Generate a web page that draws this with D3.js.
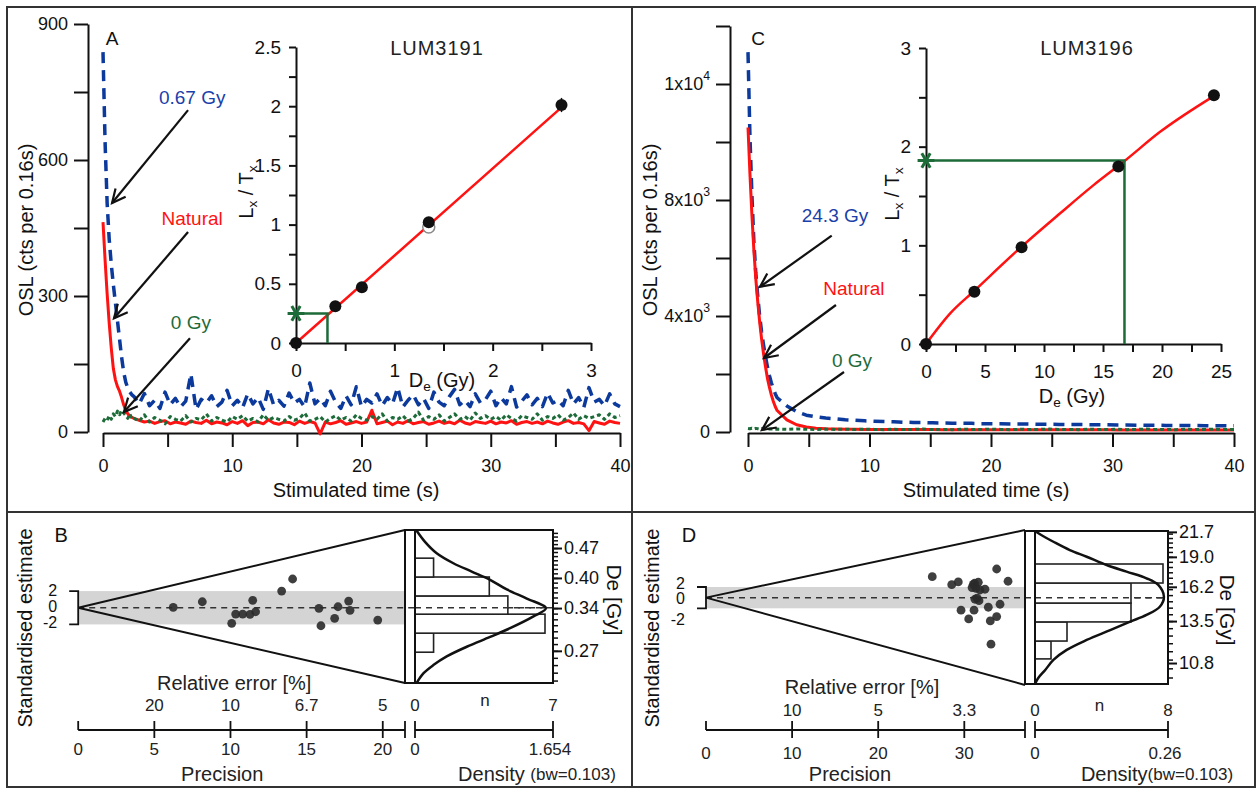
<!DOCTYPE html>
<html>
<head>
<meta charset="utf-8">
<script src="https://cdn.jsdelivr.net/npm/d3@7/dist/d3.min.js"></script>
<style>
  body { margin: 0; background: #fff; }
  text { font-family: "Liberation Sans", Arial, sans-serif; }
</style>
</head>
<body>
<svg id="chart" width="1258" height="789"></svg>
<script>
// ---------- data : OSL decay curves (counts per channel) ----------
const tEarly = [0, 0.16, 0.32, 0.48, 0.64, 0.8, 0.96, 1.12, 1.28, 1.44, 1.6, 1.76, 1.92, 2.08, 2.24];
const timeA = tEarly.concat(d3.range(2.4, 40.01, 0.4));
const timeC = tEarly.concat(d3.range(2.4, 40.01, 0.8));

const natA = [463, 380, 305, 240, 185, 140, 115, 100, 90, 76, 60, 48, 40, 35, 32,
  30, 26, 22, 24, 19, 23, 25, 18, 22, 20,
  17, 24, 21, 19, 26, 18, 22, 20, 16, 23,
  19, 25, 14, 21, 22, 18, 27, 20, 17, 22,
  21, 16, 24, 19, 23, 20, -4, 22, 18, 21,
  25, 17, 20, 23, 19, 22, 48, 18, 21, 24,
  16, 22, 19, 25, 18, 21, 23, 17, 20, 24,
  19, 22, 18, 26, 20, 17, 23, 21, 19, 24,
  18, 22, 20, 25, 17, 21, 23, 19, 22, 18,
  24, 20, 17, 22, 25, 19, 21, 18, 3, 23,
  20, 17, 24, 21, 19];
const regA = [838, 640, 505, 425, 370, 325, 285, 245, 205, 165, 132, 110, 97, 88, 82,
  78, 62, 85, 58, 70, 52, 88, 60, 74, 55,
  68, 128, 50, 72, 64, 80, 56, 66, 92, 58,
  70, 54, 84, 62, 76, 50, 96, 60, 70, 57,
  86, 64, 72, 55, 108, 62, 74, 58, 90, 66,
  52, 80, 60, 100, 56, 72, 64, 84, 58, 76,
  62, 98, 55, 70, 82, 60, 74, 52, 88, 66,
  58, 78, 94, 60, 70, 56, 84, 64, 72, 90,
  58, 76, 62, 100, 55, 68, 82, 60, 74, 56,
  86, 64, 70, 58, 92, 62, 76, 54, 98, 66,
  72, 58, 84, 62, 56];
const bgA = [22, 30, 26, 36, 28, 40, 34, 46, 38, 48, 42, 36, 30, 40, 28,
  30, 24, 38, 22, 32, 26, 18, 34, 28, 24,
  36, 22, 30, 27, 40, 24, 32, 26, 22, 34,
  28, 36, 24, 30, 22, 38, 26, 32, 28, 24,
  34, 26, 30, 42, 24, 28, 34, 22, 30, 36,
  26, 32, 24, 38, 30, 26, 34, 28, 40, 24,
  32, 28, 36, 24, 30, 44, 26, 34, 28, 38,
  24, 32, 40, 28, 34, 26, 42, 30, 36, 28,
  34, 26, 38, 30, 24, 36, 32, 28, 40, 26,
  34, 30, 38, 26, 32, 42, 28, 36, 30, 34,
  38, 28, 40, 32, 36];

const natC = [10500, 8900, 7500, 6300, 5300, 4500, 3800, 3200, 2700, 2250, 1850, 1550, 1280, 1060, 880,
  740, 420, 250, 170, 130, 110, 100, 95, 92, 90,
  88, 86, 85, 84, 83, 82, 82, 81, 80, 80,
  79, 79, 78, 78, 77, 77, 76, 76, 76, 75,
  75, 75, 74, 74, 74, 73, 73, 73, 72, 72,
  72, 71, 71, 71, 70, 70, 70, 70];
const regC = [13100, 10200, 8200, 6600, 5500, 4700, 4000, 3450, 3000, 2600, 2250, 1950, 1700, 1500, 1320,
  1180, 900, 700, 580, 520, 480, 455, 420, 405, 385,
  372, 360, 352, 338, 330, 326, 316, 312, 302, 300,
  298, 288, 286, 284, 276, 274, 272, 266, 265, 262,
  255, 256, 252, 248, 246, 240, 241, 236, 232, 233,
  228, 226, 222, 221, 218, 215, 214, 212];
const bgC = [120, 110, 130, 105, 125, 115, 100, 120, 110, 95, 115, 105, 100, 110, 95,
  100, 90, 105, 95, 85, 100, 90, 95, 85, 100,
  90, 80, 95, 85, 90, 100, 85, 90, 80, 95,
  90, 85, 100, 90, 80, 95, 85, 90, 100, 85,
  90, 80, 95, 90, 85, 95, 80, 90, 100, 85,
  90, 80, 95, 85, 90, 95, 85, 90];

// y tick labels of panel C (as printed on the figure)
const yTickValsC = [0, 4000, 8000, 12000];
const yTickTextC = [[["0"]], [["4x10"], ["3", "sup"]], [["8x10"], ["3", "sup"]], [["1x10"], ["4", "sup"]]];

// ---------- data : dose response insets ----------
const doseA = [0, 0.40, 0.67, 1.35, 2.70];
const ratioA = [0, 0.31, 0.47, 1.02, 2.01];
const errA = [0, 0.02, 0.02, 0.03, 0.06];
const fitDoseA = [0, 2.70];
const fitRatioA = [0, 1.99];

const doseC = [0, 4.1, 8.1, 16.3, 24.4];
const ratioC = [0, 0.53, 0.98, 1.80, 2.52];
const errC = [0, 0.03, 0.03, 0.04, 0.05];
const fitDoseC = [0, 2.05, 4.1, 8.13, 11.37, 14.2, 16.88, 19.84, 24.35];
const fitRatioC = [0, 0.31, 0.54, 0.99, 1.325, 1.61, 1.86, 2.15, 2.51];

// ---------- data : radial plots ----------
const precB = [6.24, 8.15, 10.08, 10.34, 10.80, 11.28, 11.46, 11.65, 13.36, 14.08, 15.81, 15.94, 16.84, 17.06, 17.76, 17.85, 19.67];
const zB = [0.05, 0.72, -1.87, -0.76, -0.76, -0.79, 0.89, -0.48, 2.0, 3.45, -0.07, -2.16, -1.27, 0.12, 0.80, -0.31, -1.48];
const binEdgesB = [0.268, 0.297, 0.329, 0.363, 0.402, 0.445];
const binCountsB = [1, 7, 5, 4, 1];
const kdeDeB = [0.516, 0.486, 0.457, 0.433, 0.414, 0.396, 0.376, 0.358, 0.340, 0.325, 0.305, 0.291, 0.276, 0.262, 0.250, 0.239, 0.227];
const kdeDenB = [0.02, 0.12, 0.26, 0.46, 0.68, 0.90, 1.10, 1.34, 1.57, 1.42, 1.14, 0.90, 0.62, 0.38, 0.22, 0.10, 0.02];
const deTicksB = [0.27, 0.34, 0.40, 0.47];
const relTicksB = [5, 10, 15, 20];
const relTextB = ["20", "10", "6.7", "5"];
const precTicksB = [0, 5, 10, 15, 20];

const precD = [26.28, 28.54, 29.30, 31.05, 31.63, 31.36, 31.82, 32.40, 31.24, 31.71, 33.76, 35.08, 29.62, 31.13, 30.51, 32.79, 33.02, 33.76, 34.15, 33.10, 31.2, 31.5, 30.9];
const zD = [3.94, 2.44, 2.95, 2.51, 2.89, 1.76, 1.44, 1.58, -0.30, -0.56, 5.38, 3.08, -2.36, -2.36, -4.0, -1.80, -4.37, -3.56, -1.24, -8.74, 2.7, -0.1, 1.9];
const binEdgesD = [11.04, 12.14, 13.44, 14.86, 16.53, 18.29];
const binCountsD = [1, 2, 6, 6, 8];
const kdeDeD = [21.8, 21.31, 20.59, 19.70, 19.01, 18.19, 17.56, 16.95, 16.36, 15.37, 14.57, 13.95, 13.46, 12.87, 12.21, 11.58, 10.98, 10.41, 9.96, 9.66];
const kdeDenD = [0, 0.013, 0.036, 0.068, 0.101, 0.140, 0.179, 0.218, 0.241, 0.252, 0.244, 0.218, 0.186, 0.147, 0.101, 0.062, 0.036, 0.020, 0.006, 0];
const deTicksD = [10.8, 13.5, 16.2, 19.0, 21.7];
const relTicksD = [10, 20, 30];
const relTextD = ["10", "5", "3.3"];
const precTicksD = [0, 10, 20, 30];

// ---------- drawing ----------
const svg = d3.select("#chart");
const INK = "#111", BLUE = "#0c3a9c", BLUE_T = "#1a40aa", RED = "#ff1212", GREEN = "#1e6b3a";

function label(g, x, y, parts, opt = {}) {
  const size = opt.size || 18;
  const t = g.append("text")
    .attr("x", x).attr("y", y)
    .attr("font-size", size)
    .attr("fill", opt.fill || INK)
    .attr("text-anchor", opt.anchor || "middle")
    .attr("dominant-baseline", "central");
  if (opt.rotate) t.attr("transform", `rotate(${opt.rotate},${x},${y})`);
  if (opt.spacing) t.attr("letter-spacing", opt.spacing);
  if (typeof parts === "string") parts = [[parts]];
  let shift = 0;
  parts.forEach(([s, kind]) => {
    const target = kind === "sub" ? size * 0.32 : kind === "sup" ? -size * 0.42 : 0;
    const ts = t.append("tspan").text(s);
    if (target !== shift) ts.attr("dy", target - shift);
    if (kind === "sub" || kind === "sup") ts.attr("font-size", size * 0.68);
    if (kind === "small") ts.attr("font-size", size * 0.85);
    shift = target;
  });
  return t;
}

function styleAxis(a, size) {
  a.attr("font-size", size).attr("font-family", null);
  a.selectAll("path, line").attr("stroke", INK).attr("stroke-width", 2);
  a.selectAll("text").attr("fill", INK);
}

function arrow(g, p1, p2) {
  g.append("line").attr("x1", p1[0]).attr("y1", p1[1]).attr("x2", p2[0]).attr("y2", p2[1])
    .attr("stroke", INK).attr("stroke-width", 2.2);
  const a = Math.atan2(p2[1] - p1[1], p2[0] - p1[0]), L = 15, w = 0.45;
  const p = d3.path();
  p.moveTo(p2[0] - L * Math.cos(a - w), p2[1] - L * Math.sin(a - w));
  p.lineTo(p2[0], p2[1]);
  p.lineTo(p2[0] - L * Math.cos(a + w), p2[1] - L * Math.sin(a + w));
  g.append("path").attr("d", p).attr("fill", "none").attr("stroke", INK).attr("stroke-width", 2.2);
}

// frame
svg.append("rect").attr("x", 7).attr("y", 7).attr("width", 1248).attr("height", 780)
  .attr("fill", "none").attr("stroke", "#333").attr("stroke-width", 2);
svg.append("line").attr("x1", 632).attr("x2", 632).attr("y1", 7).attr("y2", 787).attr("stroke", "#333").attr("stroke-width", 2);
svg.append("line").attr("x1", 7).attr("x2", 1255).attr("y1", 512).attr("y2", 512).attr("stroke", "#333").attr("stroke-width", 2);

function decayPanel(o) {
  const g = svg.append("g");
  const x = d3.scaleLinear().domain([0, 40]).range(o.xr);
  const y = d3.scaleLinear().domain([0, o.yMax]).range([432, o.yTop]);

  const ya = g.append("g").attr("transform", `translate(${o.axisX},0)`)
    .call(d3.axisLeft(y).tickValues(o.yTicks).tickSize(14).tickSizeOuter(0).tickFormat(""));
  const xa = g.append("g").attr("transform", "translate(0,433)")
    .call(d3.axisBottom(x).tickValues(d3.range(0, 41, 5)).tickSize(14).tickSizeOuter(0).tickPadding(12)
      .tickFormat(d => d % 10 ? "" : d));
  styleAxis(ya, 18); styleAxis(xa, 18);
  o.yLabVals.forEach((v, i) => label(g, o.axisX - 20, y(v), o.yLabText[i], { anchor: "end", size: 18 }));

  label(g, o.titleX, 490, "Stimulated time (s)", { size: 20 });
  label(g, o.oslX, 230, "OSL (cts per 0.16s)", { size: 20, rotate: -90 });
  label(g, o.tagX, 38, o.tag, { size: 19 });

  const line = d3.line().x(d => x(d[0])).y(d => y(d[1]));
  const series = [
    { v: o.reg, c: BLUE, w: 3.5, dash: "11,7" },
    { v: o.nat, c: RED, w: 3 },
    { v: o.bg, c: GREEN, w: 3, dash: "4,3" }
  ];
  series.forEach(s => {
    g.append("path").datum(d3.zip(o.time, s.v)).attr("d", line)
      .attr("fill", "none").attr("stroke", s.c).attr("stroke-width", s.w)
      .attr("stroke-linejoin", "round").attr("stroke-dasharray", s.dash || null);
  });

  o.notes.forEach(n => {
    label(g, x(n.at[0]), y(n.at[1]), n.text, { size: 19, fill: n.color });
    arrow(g, [x(n.from[0]), y(n.from[1])], [x(n.to[0]), y(n.to[1])]);
  });
}

decayPanel({
  xr: [103, 620], yMax: 900, yTop: 24, axisX: 88,
  yTicks: d3.range(0, 901, 150), yLabVals: [0, 300, 600, 900], yLabText: ["0", "300", "600", "900"],
  titleX: 356, oslX: 26, tagX: 112, tag: "A",
  time: timeA, nat: natA, reg: regA, bg: bgA,
  notes: [
    { text: "0.67 Gy", color: BLUE_T, at: [6.9, 739], from: [6.58, 710], to: [0.70, 505] },
    { text: "Natural", color: RED, at: [6.9, 472], from: [6.58, 441], to: [0.85, 251] },
    { text: "0 Gy", color: GREEN, at: [6.8, 243], from: [6.73, 207], to: [1.62, 44] }
  ]
});

decayPanel({
  xr: [748, 1234], yMax: 14000, yTop: 26, axisX: 730,
  yTicks: d3.range(0, 14001, 2000), yLabVals: yTickValsC, yLabText: yTickTextC,
  titleX: 986, oslX: 650, tagX: 758, tag: "C",
  time: timeC, nat: natC, reg: regC, bg: bgC,
  notes: [
    { text: "24.3 Gy", color: BLUE_T, at: [7.16, 7483], from: [6.89, 6769], to: [0.99, 5010] },
    { text: "Natural", color: RED, at: [8.72, 4966], from: [7.24, 4379], to: [1.32, 2552] },
    { text: "0 Gy", color: GREEN, at: [8.56, 2483], from: [7.9, 2069], to: [1.15, 69] }
  ]
});

function inset(o) {
  const g = svg.append("g");
  const x = d3.scaleLinear().domain([0, o.xMax]).range([o.x0, o.x1]);
  const y = d3.scaleLinear().domain([0, o.yMax]).range([o.y0, o.y1]);
  const ya = g.append("g").attr("transform", `translate(${o.x0},0)`)
    .call(d3.axisLeft(y).tickValues(o.yTicks).tickSize(7).tickSizeOuter(0).tickPadding(8)
      .tickFormat(d => o.yLab.includes(d) ? d : ""));
  const xa = g.append("g").attr("transform", `translate(0,${o.y0})`)
    .call(d3.axisBottom(x).tickValues(o.xTicks).tickSize(8).tickSizeOuter(0).tickPadding(13)
      .tickFormat(d => o.xLab.includes(d) ? d : ""));
  styleAxis(ya, 19); styleAxis(xa, 19);

  label(g, o.titleX, 48, o.title, { size: 20, spacing: 1, fill: "#222" });
  label(g, o.xTitle[0], o.xTitle[1], [["D"], ["e", "sub"], [" (Gy)"]], { size: 20 });
  label(g, o.yTitle[0], o.yTitle[1], [["L"], ["x", "sub"], [" / T"], ["x", "sub"]], { size: 20, rotate: -90 });

  g.append("path").datum(d3.zip(o.fitDose, o.fitRatio))
    .attr("d", d3.line().curve(d3.curveMonotoneX).x(d => x(d[0])).y(d => y(d[1])))
    .attr("fill", "none").attr("stroke", RED).attr("stroke-width", 2.5);
  g.append("path").attr("d", `M${x(0)},${y(o.natRatio)}H${x(o.de)}V${y(0)}`)
    .attr("fill", "none").attr("stroke", GREEN).attr("stroke-width", 2.5);
  g.append("path").attr("d", d3.symbol(d3.symbolAsterisk, 200)())
    .attr("transform", `translate(${x(0)},${y(o.natRatio)}) rotate(90)`)
    .attr("fill", "none").attr("stroke", GREEN).attr("stroke-width", 3);

  if (o.recDose) {
    g.append("circle").attr("cx", x(o.recDose)).attr("cy", y(o.recRatio)).attr("r", 6)
      .attr("fill", "#fff").attr("stroke", "#888").attr("stroke-width", 1.5);
  }
  o.dose.forEach((d, i) => {
    g.append("line").attr("x1", x(d)).attr("x2", x(d))
      .attr("y1", y(o.ratio[i] - o.err[i])).attr("y2", y(o.ratio[i] + o.err[i]))
      .attr("stroke", INK).attr("stroke-width", 1.5);
    g.append("circle").attr("cx", x(d)).attr("cy", y(o.ratio[i])).attr("r", 6).attr("fill", "#111");
  });
}

inset({
  x0: 296, x1: 591, y0: 343, y1: 47, xMax: 3, yMax: 2.5,
  yTicks: d3.range(0, 2.51, 0.25), yLab: [0, 0.5, 1, 1.5, 2, 2.5],
  xTicks: d3.range(0, 3.01, 0.5), xLab: [0, 1, 2, 3],
  title: "LUM3191", titleX: 437, xTitle: [442, 380], yTitle: [246, 192],
  dose: doseA, ratio: ratioA, err: errA, fitDose: fitDoseA, fitRatio: fitRatioA,
  natRatio: 0.25, de: 0.32, recDose: 1.35, recRatio: 0.98
});

inset({
  x0: 926, x1: 1221, y0: 344, y1: 48, xMax: 25, yMax: 3,
  yTicks: d3.range(0, 3.01, 0.5), yLab: [0, 1, 2, 3],
  xTicks: d3.range(0, 25.1, 2.5), xLab: [0, 5, 10, 15, 20, 25],
  title: "LUM3196", titleX: 1087, xTitle: [1072, 396], yTitle: [892, 194],
  dose: doseC, ratio: ratioC, err: errC, fitDose: fitDoseC, fitRatio: fitRatioC,
  natRatio: 1.86, de: 16.82
});

function radial(o) {
  const g = svg.append("g");
  const xP = d3.scaleLinear().domain([0, o.pMax]).range([o.x0, o.x1]);
  const yZ = d3.scaleLinear().domain(o.zDom).range([o.yBot, o.yTop]);
  const yDe = d3.scaleLog().domain(o.deDom).range([o.boxBot, o.boxTop]);
  const xN = d3.scaleLinear().domain([0, o.nMax]).range([o.hx0, o.nRight]);
  const xDen = d3.scaleLinear().domain([0, o.denMax]).range([o.hx0, o.hx1]);
  const ink = s => s.attr("stroke", INK).attr("fill", "none");

  // +-2 band and centre line
  g.append("rect").attr("x", xP(0)).attr("y", yZ(2)).attr("width", xP(o.pMax) - xP(0))
    .attr("height", yZ(-2) - yZ(2)).attr("fill", "#d4d4d4");
  g.append("line").attr("x1", xP(0)).attr("x2", o.hx1 - 2).attr("y1", yZ(0)).attr("y2", yZ(0))
    .attr("stroke", "#333").attr("stroke-width", 1.5).attr("stroke-dasharray", "6,5");
  // limit lines
  g.append("path").attr("d", d3.line()([[xP(o.pMax), yZ(o.zDom[1])], [xP(0), yZ(0)], [xP(o.pMax), yZ(o.zDom[0])]]))
    .call(ink).attr("stroke-width", 2);
  // z bracket
  g.append("path").attr("d", `M${xP(0) - 9},${yZ(2)}H${xP(0)}V${yZ(-2)}H${xP(0) - 9}`)
    .call(ink).attr("stroke-width", 1.8);
  [2, 0, -2].forEach((v, i) => label(g, xP(0) - 21, o.zLabY[i], String(v), { anchor: "end", size: 16 }));
  label(g, o.seX, 628, "Standardised estimate", { size: 20, rotate: -90 });
  label(g, o.x0 - 17, 535, o.tag, { size: 20 });

  // points
  g.selectAll("circle.pt").data(d3.zip(o.prec, o.z)).join("circle").attr("class", "pt")
    .attr("cx", d => xP(d[0])).attr("cy", d => yZ(d[1])).attr("r", 4.4)
    .attr("fill", "#2a2a2a").attr("fill-opacity", 0.9);

  // narrow bar + histogram box
  g.append("rect").attr("x", xP(o.pMax)).attr("y", o.boxTop).attr("width", o.hx0 - xP(o.pMax))
    .attr("height", o.boxBot - o.boxTop).call(ink).attr("stroke-width", 2);
  o.counts.forEach((c, i) => {
    g.append("rect").attr("x", o.hx0).attr("y", yDe(o.edges[i + 1])).attr("width", xN(c) - o.hx0)
      .attr("height", yDe(o.edges[i]) - yDe(o.edges[i + 1])).attr("fill", "#fff")
      .attr("stroke", "#222").attr("stroke-width", 1.6);
  });
  g.append("line").attr("x1", o.hx0).attr("x2", o.hx1).attr("y1", yZ(0)).attr("y2", yZ(0))
    .attr("stroke", "#333").attr("stroke-width", 1.5).attr("stroke-dasharray", "6,5");
  g.append("path").datum(d3.zip(o.kdeDe, o.kdeDen))
    .attr("d", d3.line().curve(d3.curveCatmullRom).x(d => xDen(d[1])).y(d => yDe(d[0])))
    .call(ink).attr("stroke-width", 2.5);
  g.append("rect").attr("x", o.hx0).attr("y", o.boxTop).attr("width", o.hx1 - o.hx0)
    .attr("height", o.boxBot - o.boxTop).call(ink).attr("stroke-width", 2);

  // right De axis
  const minor = g.append("g").attr("transform", `translate(${o.hx1},0)`)
    .call(d3.axisRight(yDe).tickValues(o.minorTicks).tickSize(5).tickSizeOuter(0).tickFormat(""));
  const major = g.append("g").attr("transform", `translate(${o.hx1},0)`)
    .call(d3.axisRight(yDe).tickValues(o.deTicks).tickSize(9).tickSizeOuter(0).tickPadding(2).tickFormat(d3.format(o.deFmt)));
  styleAxis(minor, 18); styleAxis(major, 18);
  minor.selectAll("line").attr("stroke-width", 1.5);
  minor.select(".domain").remove(); major.select(".domain").remove();
  label(g, o.deX, o.deY, "De [Gy]", { size: 21, rotate: 90 });

  // bottom broken axis
  const ay = 730;
  g.append("line").attr("x1", xP(0)).attr("x2", xP(o.pMax)).attr("y1", ay).attr("y2", ay).call(ink).attr("stroke-width", 1.8);
  g.append("line").attr("x1", o.hx0).attr("x2", o.hx1).attr("y1", ay).attr("y2", ay).call(ink).attr("stroke-width", 1.8);
  const ticks = [[xP(0), ay - 9, ay]]
    .concat(o.precTicks.slice(1).map(p => [xP(p), ay - 9, ay + 8]))
    .concat([[xP(o.pMax), ay - 9, ay + 8], [o.hx0, ay - 9, ay + 8], [o.hx1, ay - 9, ay + 8]]);
  ticks.forEach(t => g.append("line").attr("x1", t[0]).attr("x2", t[0]).attr("y1", t[1]).attr("y2", t[2])
    .call(ink).attr("stroke-width", 1.8));
  o.precTicks.forEach(p => label(g, xP(p), o.precY, String(p), { size: 17, fill: "#222" }));
  o.relTicks.forEach((p, i) => label(g, xP(p), o.relY, o.relText[i], { size: 17, fill: "#222" }));
  label(g, o.hx0, o.relY, "0", { size: 17, fill: "#222" });
  label(g, (o.hx0 + o.hx1) / 2 + o.nOff, o.relY - 5, "n", { size: 17, fill: "#222" });
  label(g, o.hx1, o.relY, String(o.nMax), { size: 17, fill: "#222" });
  label(g, o.hx0, o.precY, "0", { size: 17, fill: "#222" });
  label(g, o.hx1 - 3, o.precY, o.denLab, { size: 17, fill: "#222" });
  label(g, o.x0 + 156, o.relTitleY, "Relative error [%]", { size: 20, fill: "#222" });
  label(g, o.x0 + 144, 774, "Precision", { size: 20, fill: "#222" });
  label(g, o.hx0 + 122, 774, o.denTitle, { size: 20, fill: "#222" });
}

radial({
  tag: "B", x0: 78.2, x1: 405, pMax: 21.46, zDom: [-9.03, 9.33], yBot: 683, yTop: 530,
  hx0: 415, hx1: 553, nRight: 545, nMax: 7, denMax: 1.654, denLab: "1.654",
  boxTop: 530, boxBot: 683, deDom: [0.227, 0.518],
  prec: precB, z: zB, edges: binEdgesB, counts: binCountsB, kdeDe: kdeDeB, kdeDen: kdeDenB,
  deTicks: deTicksB, deFmt: ".2f", minorTicks: d3.range(0.23, 0.515, 0.01),
  precTicks: precTicksB, relTicks: relTicksB, relText: relTextB,
  zLabY: [590, 606, 622], seX: 25, deX: 615, deY: 600,
  precY: 749, relY: 705, relTitleY: 683, nOff: 1,
  denTitle: [["Density "], ["(bw=0.103)", "small"]]
});

radial({
  tag: "D", x0: 706, x1: 1025, pMax: 37.05, zDom: [-16.4, 12.7], yBot: 685, yTop: 530,
  hx0: 1035, hx1: 1168, nRight: 1163, nMax: 8, denMax: 0.26, denLab: "0.26",
  boxTop: 531, boxBot: 684, deDom: [9.66, 21.8],
  prec: precD, z: zD, edges: binEdgesD, counts: binCountsD, kdeDe: kdeDeD, kdeDen: kdeDenD,
  deTicks: deTicksD, deFmt: ".1f", minorTicks: d3.range(10, 21.6, 0.5),
  precTicks: precTicksD, relTicks: relTicksD, relText: relTextD,
  zLabY: [583, 598, 619], seX: 652, deX: 1228, deY: 610,
  precY: 753, relY: 710, relTitleY: 687, nOff: -2,
  denTitle: [["Density"], ["(bw=0.103)", "small"]]
});
</script>
</body>
</html>
